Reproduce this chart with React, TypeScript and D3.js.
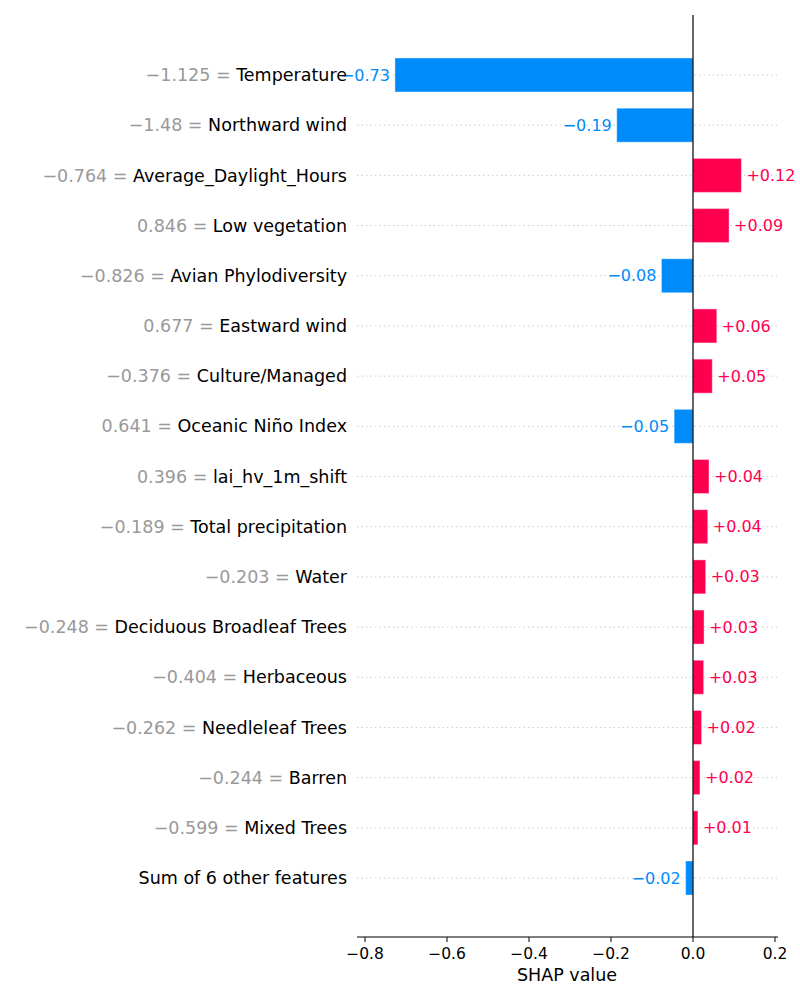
import * as d3 from "d3";

const features = [
  "Temperature", "Northward wind", "Average_Daylight_Hours", "Low vegetation",
  "Avian Phylodiversity", "Eastward wind", "Culture/Managed", "Oceanic Niño Index",
  "lai_hv_1m_shift", "Total precipitation", "Water", "Deciduous Broadleaf Trees",
  "Herbaceous", "Needleleaf Trees", "Barren", "Mixed Trees", "Sum of 6 other features",
];
const featureValues = [
  "−1.125", "−1.48", "−0.764", "0.846", "−0.826", "0.677", "−0.376", "0.641",
  "0.396", "−0.189", "−0.203", "−0.248", "−0.404", "−0.262", "−0.244", "−0.599", "",
];
const shapValues = [
  -0.727, -0.186, 0.118, 0.088, -0.077, 0.058, 0.047, -0.046,
  0.039, 0.036, 0.031, 0.027, 0.026, 0.021, 0.017, 0.012, -0.018,
];
const ticks = [-0.8, -0.6, -0.4, -0.2, 0.0, 0.2];

const BLUE = "#008bfb";
const RED = "#ff0051";
const FONT = "DejaVu Sans";

const fmt = (v: number) => (v < 0 ? "−" : "+") + Math.abs(v).toFixed(2);

export default function App() {
  const width = 800, height = 1000;
  const x = d3.scaleLinear().domain([-0.8, 0.2]).range([365, 775]);
  const y = d3.scaleLinear().domain([0, features.length - 1]).range([75, 878]);
  const barH = 34;
  const axisY = 937;

  return (
    <svg width={width} height={height} style={{ position: "absolute", left: 0, top: 0 }} fontFamily={FONT}>
      {features.map((f, i) => (
        <line key={"g" + i} x1={357} x2={777} y1={y(i)} y2={y(i)} stroke="#ccc" strokeDasharray="1.5,3" />
      ))}
      {shapValues.map((v, i) => {
        const x0 = Math.min(x(0), x(v));
        const w = Math.abs(x(v) - x(0));
        const c = v < 0 ? BLUE : RED;
        return (
          <g key={"b" + i}>
            <rect x={x0} y={y(i) - barH / 2} width={w} height={barH} fill={c} stroke="#ffffff" strokeOpacity={0.4} strokeWidth={1} />
            <text x={v < 0 ? x(v) - 5 : x(v) + 5} y={y(i)} dy="0.35em" fontSize={16}
              fill={c} textAnchor={v < 0 ? "end" : "start"}>{fmt(v)}</text>
          </g>
        );
      })}
      {features.map((f, i) => (
        <text key={"l" + i} x={347} y={y(i)} dy="0.35em" fontSize={17.5} textAnchor="end">
          {featureValues[i] && <tspan fill="#999">{featureValues[i]} = </tspan>}
          <tspan fill="#000">{f}</tspan>
        </text>
      ))}
      <line x1={x(0)} x2={x(0)} y1={15} y2={axisY} stroke="#000" strokeWidth={1.2} />
      <line x1={357} x2={778} y1={axisY} y2={axisY} stroke="#000" strokeWidth={1} />
      {ticks.map((t) => (
        <g key={"t" + t}>
          <line x1={x(t)} x2={x(t)} y1={axisY} y2={axisY + 5} stroke="#000" />
          <text x={x(t)} y={axisY + 22} fontSize={15.5} textAnchor="middle" fill="#000">
            {(t < 0 ? "−" : "") + Math.abs(t).toFixed(1)}
          </text>
        </g>
      ))}
      <text x={567} y={981} fontSize={17.5} textAnchor="middle">SHAP value</text>
    </svg>
  );
}
